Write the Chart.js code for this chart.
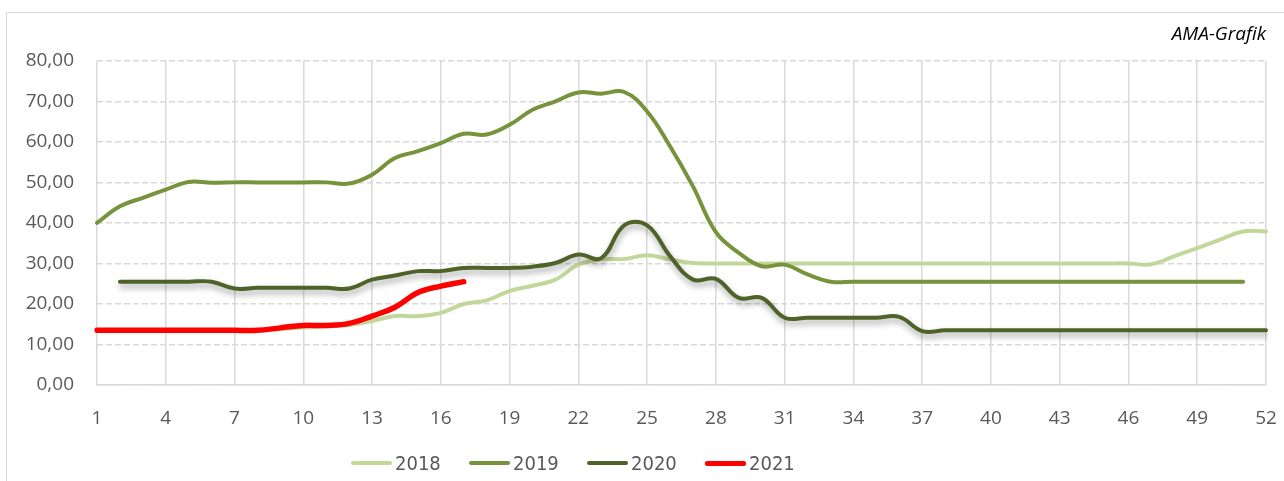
<!DOCTYPE html>
<html lang="de">
<head>
    <meta charset="UTF-8">
    <title>AMA-Grafik Wochenpreise</title>
    <script src="https://cdn.jsdelivr.net/npm/chart.js@4.4.0/dist/chart.umd.min.js"></script>
    <style>
        html, body {
            margin: 0;
            padding: 0;
            background: #ffffff;
            overflow: hidden;
        }
        .frame {
            position: absolute;
            left: 6px;
            top: 12px;
            width: 1400px;
            height: 600px;
            border-left: 1.5px solid #d9d9d9;
            border-top: 1.5px solid #d9d9d9;
        }
        .chart-box {
            position: absolute;
            left: 0;
            top: 0;
            width: 1284px;
            height: 481px;
        }
        /* legend drawn as html below the canvas */
        #legend {
            position: absolute;
            left: 351px;
            top: 451px;
            display: flex;
            font-family: 'Liberation Sans Narrow', 'DejaVu Sans Condensed', 'Open Sans', sans-serif;
            font-size: 20px;
            color: #595959;
        }
        #legend .item {
            display: inline-flex;
            align-items: center;
            width: 118px;
            height: 24px;
        }
        #legend .swatch {
            display: inline-block;
            width: 41px;
            height: 4px;
            border-radius: 2px;
            margin-right: 3px;
        }
    </style>
</head>
<body>
    <div class="frame"></div>
    <div class="chart-box">
        <canvas id="priceChart"></canvas>
    </div>
    <div id="legend"></div>

    <script>
        // --- Data (weeks 1-52) ---
        const weeks = Array.from({ length: 52 }, (_, i) => String(i + 1));

        const series2018 = [
            13.5, 13.5, 13.5, 13.5, 13.5, 13.5, 13.5, 13.5, 13.8, 14.2,
            14.5, 14.8, 15.8, 17.0, 17.0, 17.8, 20.0, 20.9, 23.2, 24.5,
            26.0, 29.7, 31.0, 31.1, 32.0, 31.0, 30.1, 30.0, 30.0, 30.0,
            30.0, 30.0, 30.0, 30.0, 30.0, 30.0, 30.0, 30.0, 30.0, 30.0,
            30.0, 30.0, 30.0, 30.0, 30.0, 30.0, 29.8, 31.8, 33.8, 35.9,
            37.9, 37.9
        ];

        const series2019 = [
            40.0, 44.1, 46.2, 48.2, 50.1, 49.9, 50.0, 50.0, 50.0, 50.0,
            50.0, 49.7, 51.9, 56.0, 57.7, 59.7, 62.0, 61.8, 64.2, 67.9,
            70.0, 72.2, 71.9, 72.3, 67.5, 58.9, 49.0, 37.7, 32.6, 29.3,
            29.7, 27.3, 25.5, 25.5, 25.5, 25.5, 25.5, 25.5, 25.5, 25.5,
            25.5, 25.5, 25.5, 25.5, 25.5, 25.5, 25.5, 25.5, 25.5, 25.5,
            25.5, null
        ];

        const series2020 = [
            null, 25.5, 25.5, 25.5, 25.5, 25.5, 23.8, 24.0, 24.0, 24.0,
            24.0, 23.8, 26.0, 27.0, 28.1, 28.1, 28.9, 28.9, 28.9, 29.2,
            30.1, 32.2, 31.3, 39.4, 39.4, 31.8, 26.0, 26.2, 21.5, 21.5,
            16.6, 16.6, 16.6, 16.6, 16.6, 16.8, 13.3, 13.5, 13.5, 13.5,
            13.5, 13.5, 13.5, 13.5, 13.5, 13.5, 13.5, 13.5, 13.5, 13.5,
            13.5, 13.5
        ];

        const series2021 = [
            13.5, 13.5, 13.5, 13.5, 13.5, 13.5, 13.5, 13.5, 14.1, 14.7,
            14.7, 15.2, 17.0, 19.2, 22.8, 24.4, 25.5
        ];

        const seriesNames = ['2018', '2019', '2020', '2021'];
        const seriesColors = ['#c4d79b', '#77933c', '#4f6228', '#ff0000'];

        const textColor = '#595959';
        const gridColor = '#d9d9d9';

        // --- Shadow under the 2020 line ---
        const shadowPlugin = {
            id: 'lineShadow',
            beforeDatasetDraw(chart, args) {
                if (args.index !== 2) return;
                const ctx = chart.ctx;
                ctx.save();
                ctx.shadowColor = 'rgba(0, 0, 0, 0.35)';
                ctx.shadowBlur = 6;
                ctx.shadowOffsetX = 1;
                ctx.shadowOffsetY = 4;
            },
            afterDatasetDraw(chart, args) {
                if (args.index !== 2) return;
                chart.ctx.restore();
            }
        };

        // later years are drawn on top, like in the original
        function makeDataset(label, data, color, width, order) {
            return {
                label: label,
                data: data,
                order: order,
                borderColor: color,
                backgroundColor: color,
                borderWidth: width,
                borderCapStyle: 'round',
                borderJoinStyle: 'round',
                pointRadius: 0,
                tension: 0.4,
                fill: false,
                spanGaps: false
            };
        }

        const ctx = document.getElementById('priceChart').getContext('2d');
        const priceChart = new Chart(ctx, {
            type: 'line',
            data: {
                labels: weeks,
                datasets: [
                    makeDataset(seriesNames[0], series2018, seriesColors[0], 4, 4),
                    makeDataset(seriesNames[1], series2019, seriesColors[1], 4, 3),
                    makeDataset(seriesNames[2], series2020, seriesColors[2], 4, 2),
                    makeDataset(seriesNames[3], series2021, seriesColors[3], 5.5, 1)
                ]
            },
            options: {
                responsive: true,
                maintainAspectRatio: false,
                animation: false,
                layout: {
                    padding: { top: 10, right: 18, bottom: 0, left: 0 }
                },
                plugins: {
                    legend: { display: false },
                    tooltip: { enabled: false },
                    title: {
                        display: true,
                        text: 'AMA-Grafik',
                        align: 'end',
                        color: '#000000',
                        font: { family: "'Open Sans', sans-serif", size: 19, style: 'italic', weight: 'normal' },
                        padding: { top: 13, bottom: 15 }
                    }
                },
                scales: {
                    x: {
                        offset: false,
                        grid: {
                            drawTicks: false,
                            lineWidth: 1.5,
                            color: (c) => (c.index % 3 === 0 ? gridColor : 'rgba(0,0,0,0)')
                        },
                        border: { display: true, color: gridColor, width: 1.5 },
                        ticks: {
                            autoSkip: false,
                            maxRotation: 0,
                            padding: 22,
                            color: textColor,
                            font: { family: "'Open Sans', sans-serif", size: 19 },
                            callback: (val, i) => (i % 3 === 0 ? weeks[i] : '')
                        },
                        afterFit: (scale) => {
                            scale.height = 96;
                            // keep the plot edge at week 52, the page padding handles the label
                            scale.paddingLeft = 0;
                            scale.paddingRight = 0;
                        }
                    },
                    y: {
                        min: 0,
                        max: 80,
                        grid: {
                            drawTicks: false,
                            lineWidth: 1.5,
                            color: gridColor
                        },
                        border: { display: false, dash: [6, 3] },
                        ticks: {
                            stepSize: 10,
                            padding: 23,
                            color: textColor,
                            font: { family: "'Open Sans', sans-serif", size: 19 },
                            callback: (v) => v.toFixed(2).replace('.', ',')
                        },
                        afterFit: (scale) => { scale.width = 97; }
                    }
                }
            },
            plugins: [shadowPlugin]
        });

        // --- HTML legend built from the chart datasets ---
        const legendEl = document.getElementById('legend');
        priceChart.data.datasets.forEach((ds) => {
            const item = document.createElement('span');
            item.className = 'item';
            const swatch = document.createElement('span');
            swatch.className = 'swatch';
            swatch.style.background = ds.borderColor;
            if (ds.borderWidth > 5) swatch.style.height = '5px';
            const label = document.createElement('span');
            label.textContent = ds.label;
            item.appendChild(swatch);
            item.appendChild(label);
            legendEl.appendChild(item);
        });
    </script>
</body>
</html>
